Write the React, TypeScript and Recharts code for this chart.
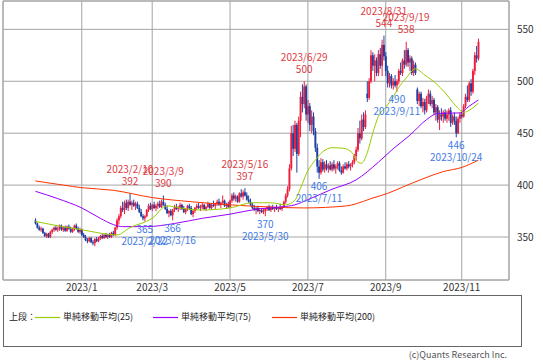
import React from 'react';
import { ComposedChart, Bar, Line, XAxis, YAxis, CartesianGrid, ReferenceArea, ReferenceDot } from 'recharts';

const FONT = '"Noto Sans CJK JP", "Noto Sans", sans-serif';

// trading-day slots, 0 = 2023/1/4
const slotFirst = -42;
const slotLast = 230;
const candleFirst = -25;

// [open, high, low, close]
const candles: [number, number, number, number][] = [
  [366,368,362,363],[363,364,358,359],[359,361,356,357],[357,360,355,358],[358,359,353,354],
  [354,355,350,351],[351,354,349,353],[353,354,349,350],[350,356,349,355],[355,358,353,357],
  [357,360,355,359],[359,361,356,357],[357,360,355,358],[358,362,356,361],[361,362,356,357],
  [357,360,355,359],[359,361,355,356],[356,361,355,360],[360,362,357,358],[358,360,354,355],
  [355,359,354,358],[358,362,356,361],[361,363,357,358],[358,360,354,355],[355,359,353,357],
  [357,358,351,352],[352,354,349,350],[350,352,346,347],[347,349,344,346],[346,350,345,349],
  [349,350,344,345],[345,347,342,344],[344,349,341,348],[348,350,345,346],[346,350,345,349],
  [349,352,347,351],[351,353,348,349],[349,353,348,352],[352,354,349,350],[350,353,348,352],
  [352,354,349,350],[350,355,349,354],[354,356,351,352],[352,360,351,359],[359,368,357,366],
  [366,372,362,370],[370,380,368,378],[378,384,374,376],[376,385,372,383],[383,386,376,378],
  [378,386,375,384],[384,392,380,381],[381,385,376,383],[383,386,379,380],[380,384,376,382],
  [382,384,377,378],[378,381,373,374],[374,377,369,370],[370,372,366,368],[368,371,365,370],
  [370,377,369,376],[376,382,374,380],[380,383,376,377],[377,382,375,381],[381,384,377,378],
  [378,382,375,380],[380,384,377,382],[382,385,378,379],[379,386,378,384],[384,390,380,381],
  [381,383,376,377],[377,380,372,373],[373,376,369,375],[375,377,370,371],[371,377,366,376],
  [376,381,374,379],[379,382,376,377],[377,380,374,378],[378,383,376,381],[381,382,376,377],
  [377,380,373,374],[374,378,372,377],[377,381,375,380],[380,382,376,378],[378,380,371,372],
  [372,376,369,375],[375,379,373,378],[378,382,376,380],[380,383,377,378],[378,381,375,379],
  [379,383,377,381],[381,382,376,377],[377,380,375,379],[379,384,378,382],[382,383,377,378],
  [378,382,376,381],[381,385,379,380],[380,383,377,382],[382,386,380,384],[384,387,380,381],
  [381,384,378,383],[383,390,381,385],[385,386,379,380],[380,383,377,382],[382,384,378,379],
  [379,386,378,385],[385,392,383,390],[390,393,385,387],[387,391,384,389],[389,390,383,384],
  [384,393,383,392],[392,396,388,389],[389,395,386,393],[393,397,389,390],[390,393,385,386],
  [386,390,383,384],[384,387,380,381],[381,383,377,378],[378,381,375,376],[376,379,372,378],
  [378,380,374,375],[375,378,372,376],[376,378,373,374],[374,377,372,375],[375,378,370,377],
  [377,380,375,379],[379,381,375,376],[376,380,374,378],[378,381,376,377],[377,379,374,378],
  [378,381,376,377],[377,379,374,378],[378,382,376,377],[377,380,375,379],[379,385,378,384],
  [384,392,382,390],[390,399,388,396],[396,420,394,416],[416,457,414,450],[450,458,428,435],
  [435,462,432,458],[458,460,412,430],[430,466,428,462],[462,490,446,485],[485,497,470,478],
  [478,500,474,495],[495,497,462,468],[468,482,460,476],[476,479,452,458],[458,472,450,466],
  [466,470,448,452],[452,455,432,436],[436,440,412,418],[418,424,406,412],[412,426,410,422],
  [422,425,413,415],[415,423,412,420],[420,424,414,416],[416,421,412,419],[419,423,414,415],
  [415,422,413,420],[420,424,414,416],[416,420,411,418],[418,423,415,421],[421,423,413,414],
  [414,418,410,412],[412,420,411,418],[418,422,415,416],[416,422,414,420],[420,423,416,418],
  [418,421,414,420],[420,424,417,422],[422,430,420,428],[428,437,424,434],[434,455,432,450],
  [450,462,440,445],[445,468,443,463],[463,470,452,456],[456,472,454,468],[488,500,480,484],
  [484,503,482,500],[500,530,498,525],[525,528,510,515],[515,526,500,520],[520,523,505,508],
  [508,530,505,526],[526,532,512,515],[515,540,505,535],[535,544,520,524],[524,528,505,510],
  [510,515,494,498],[498,508,494,505],[505,507,493,496],[496,503,492,500],[500,506,494,496],
  [496,502,490,500],[500,512,497,510],[510,518,506,508],[508,522,505,520],[520,530,512,516],
  [516,538,514,530],[530,532,514,518],[518,525,510,522],[522,524,506,508],[508,520,505,516],
  [516,518,506,508],[492,494,478,481],[481,490,476,488],[488,490,474,476],[476,484,470,480],
  [480,483,468,472],[472,486,470,484],[484,492,478,488],[488,491,476,478],[478,486,474,482],
  [482,484,468,470],[470,478,462,475],[475,477,460,463],[463,472,453,468],[468,474,462,466],
  [466,472,460,470],[470,473,462,464],[464,472,460,468],[468,474,462,472],[472,475,456,460],
  [460,468,458,466],[466,470,458,462],[462,466,446,450],[450,466,449,464],[464,470,460,468],
  [468,472,464,466],[466,478,465,476],[476,488,474,485],[485,496,480,482],[482,500,480,498],
  [498,502,486,490],[490,512,488,510],[510,528,506,525],[525,534,518,522],[522,541,520,538],
];

// moving averages read at [slot, value]
const ma25Pts: [number, number][] = [
  [-25,365],[-15,361.5],[0,357],[15,352.5],[19,352],[26,359],[38,368],[46,380],[53,378],[64,376],
  [80,378],[92,383],[102,383],[110,381],[115,385.5],[118,397],[122,414],[126,424],[130,432],[135,436],
  [141,435.5],[146,431],[148,424],[151,421],[154,431],[157,450],[160,466],[164,475],[168,485],[171,494],
  [175,503],[180,512],[185,506],[191,498],[196,489],[200,480],[203,474],[206,470],[209,472],[214,479],
];
const ma75Pts: [number, number][] = [
  [-25,394],[-13,387],[0,378],[10,368],[17,362],[22,360],[35,360],[50,363],[65,368],[80,372],
  [95,377],[108,379],[115,381],[122,386],[135,396],[148,405],[160,422],[168,435],[177,448],[186,463],
  [192,469],[204,469.5],[209,476],[214,482],
];
const ma200Pts: [number, number][] = [
  [-25,404],[-10,400],[0,397.5],[17,395],[38,388],[59,384],[80,381],[100,379],[120,378],[143,380],
  [148,382],[156,387],[165,392],[173,398],[184,406],[195,413],[205,417],[214,424],
];

const monthTicks = [0, 38, 80, 122, 164, 205];
const monthLabels = ['2023/1', '2023/3', '2023/5', '2023/7', '2023/9', '2023/11'];
const priceTicks = [350, 400, 450, 500, 550];
const priceDomain: [number, number] = [308.6, 577.3];

const highMarks = [
  { i: 26, v: 392, d: '2023/2/10' },
  { i: 44, v: 390, d: '2023/3/9' },
  { i: 88, v: 397, d: '2023/5/16' },
  { i: 120, v: 500, d: '2023/6/29' },
  { i: 163, v: 544, d: '2023/8/31' },
  { i: 175, v: 538, d: '2023/9/19' },
];
const lowMarks = [
  { i: 34, v: 365, d: '2023/2/22' },
  { i: 49, v: 366, d: '2023/3/16' },
  { i: 99, v: 370, d: '2023/5/30' },
  { i: 128, v: 406, d: '2023/7/11' },
  { i: 170, v: 490, d: '2023/9/11' },
  { i: 202, v: 446, d: '2023/10/24' },
];

const legendItems = [
  { name: '単純移動平均(25)', color: '#99cc00' },
  { name: '単純移動平均(75)', color: '#9900ff' },
  { name: '単純移動平均(200)', color: '#ff3300' },
];

const UP = '#ee1d3d';
const DOWN = '#1d3f9f';
const HIGH_TXT = '#dc3a3f';
const LOW_TXT = '#3f7be6';
const GRID = '#a4a4a4';

type Row = { slot: number; c?: [number, number, number, number]; ma25?: number; ma75?: number; ma200?: number };

const rows: Row[] = [];
for (let s = slotFirst; s <= slotLast; s++) {
  const row: Row = { slot: s };
  const k = s - candleFirst;
  if (k >= 0 && k < candles.length) row.c = candles[k];
  rows.push(row);
}
ma25Pts.forEach(([s, v]) => { rows[s - slotFirst].ma25 = v; });
ma75Pts.forEach(([s, v]) => { rows[s - slotFirst].ma75 = v; });
ma200Pts.forEach(([s, v]) => { rows[s - slotFirst].ma200 = v; });

const Candle = (props: any) => {
  const { x, y, width, height, payload } = props;
  if (!payload || !payload.c || !isFinite(y) || !isFinite(height)) return <g />;
  const [o, h, l, c] = payload.c;
  const top = Math.min(y, y + height);
  const span = Math.abs(height);
  const py = (v: number) => (h === l ? top : top + ((h - v) / (h - l)) * span);
  const cx = x + width / 2;
  const col = c >= o ? UP : DOWN;
  const bTop = py(Math.max(o, c));
  const bBot = py(Math.min(o, c));
  return (
    <g>
      <line x1={cx} x2={cx} y1={top} y2={top + span} stroke={col} strokeWidth={1} />
      <rect x={cx - 0.95} y={bTop} width={1.9} height={Math.max(1, bBot - bTop)} fill={col} />
    </g>
  );
};

export default function App() {
  return (
    <div style={{ position: 'absolute', left: 0, top: 0, width: 543, height: 362, background: '#fff', fontFamily: FONT }}>
      <ComposedChart
        width={543}
        height={300}
        data={rows}
        margin={{ top: 1, right: 0, bottom: 0, left: 3 }}
        barCategoryGap={0}
        barGap={0}
        style={{ fontFamily: FONT }}
      >
        <CartesianGrid stroke={GRID} strokeWidth={1} />
        <ReferenceArea y1={priceDomain[0]} y2={priceDomain[1]} fill="none" stroke={GRID} strokeWidth={1} ifOverflow="visible" />
        <XAxis
          dataKey="slot"
          type="category"
          ticks={monthTicks}
          interval={0}
          tickFormatter={(v: number) => monthLabels[monthTicks.indexOf(v)] ?? ''}
          axisLine={false}
          tickLine={false}
          tickSize={2}
          tickMargin={2}
          height={20}
          tick={{ fontSize: 10, fill: '#333', fontFamily: FONT }}
        />
        <YAxis
          orientation="right"
          domain={priceDomain}
          allowDataOverflow
          ticks={priceTicks}
          axisLine={false}
          tickLine={false}
          width={34}
          tick={{ fontSize: 10, fill: '#333', fontFamily: FONT }}
        />
        <Bar
          dataKey={(r: Row) => (r.c ? [r.c[2], r.c[1]] : undefined)}
          shape={<Candle />}
          isAnimationActive={false}
        />
        <Line dataKey="ma200" stroke="#ff3300" strokeWidth={1} dot={false} connectNulls type="monotone" isAnimationActive={false} />
        <Line dataKey="ma75" stroke="#9900ff" strokeWidth={1} dot={false} connectNulls type="monotone" isAnimationActive={false} />
        <Line dataKey="ma25" stroke="#99cc00" strokeWidth={1} dot={false} connectNulls type="monotone" isAnimationActive={false} />
        {highMarks.map((m) => (
          <ReferenceDot
            key={'h' + m.d}
            x={m.i}
            y={m.v}
            r={0}
            shape={(p: any) => (
              <g>
                <text x={p.cx} y={p.cy - 20.4} textAnchor="middle" fontSize={10} fill={HIGH_TXT} fontFamily={FONT}>{m.d}</text>
                <text x={p.cx} y={p.cy - 8.4} textAnchor="middle" fontSize={10} fill={HIGH_TXT} fontFamily={FONT}>{m.v}</text>
              </g>
            )}
          />
        ))}
        {lowMarks.map((m) => (
          <ReferenceDot
            key={'l' + m.d}
            x={m.i}
            y={m.v}
            r={0}
            shape={(p: any) => (
              <g>
                <text x={p.cx} y={p.cy + 11.6} textAnchor="middle" fontSize={10} fill={LOW_TXT} fontFamily={FONT}>{m.v}</text>
                <text x={p.cx} y={p.cy + 23.6} textAnchor="middle" fontSize={10} fill={LOW_TXT} fontFamily={FONT}>{m.d}</text>
              </g>
            )}
          />
        ))}
      </ComposedChart>
      <div
        style={{
          position: 'absolute', left: 3, top: 295, width: 519, height: 52,
          border: '1px solid #666', boxSizing: 'border-box', fontSize: 9, color: '#222',
        }}
      >
        <span style={{ position: 'absolute', left: 5, top: 15, lineHeight: '12px', whiteSpace: 'nowrap' }}>上段：</span>
        {legendItems.map((it, k) => {
          const base = [31, 149, 268][k];
          return (
            <React.Fragment key={it.name}>
              <svg width={25} height={3} style={{ position: 'absolute', left: base, top: 20, display: 'block' }}>
                <line x1={0} x2={25} y1={1.5} y2={1.5} stroke={it.color} strokeWidth={1.2} />
              </svg>
              <span style={{ position: 'absolute', left: base + 28, top: 15, lineHeight: '12px', whiteSpace: 'nowrap' }}>{it.name}</span>
            </React.Fragment>
          );
        })}
      </div>
      <div style={{ position: 'absolute', left: 0, top: 349, width: 507, textAlign: 'right', fontSize: 9, color: '#555', lineHeight: '12px' }}>
        (c)Quants Research Inc.
      </div>
    </div>
  );
}
